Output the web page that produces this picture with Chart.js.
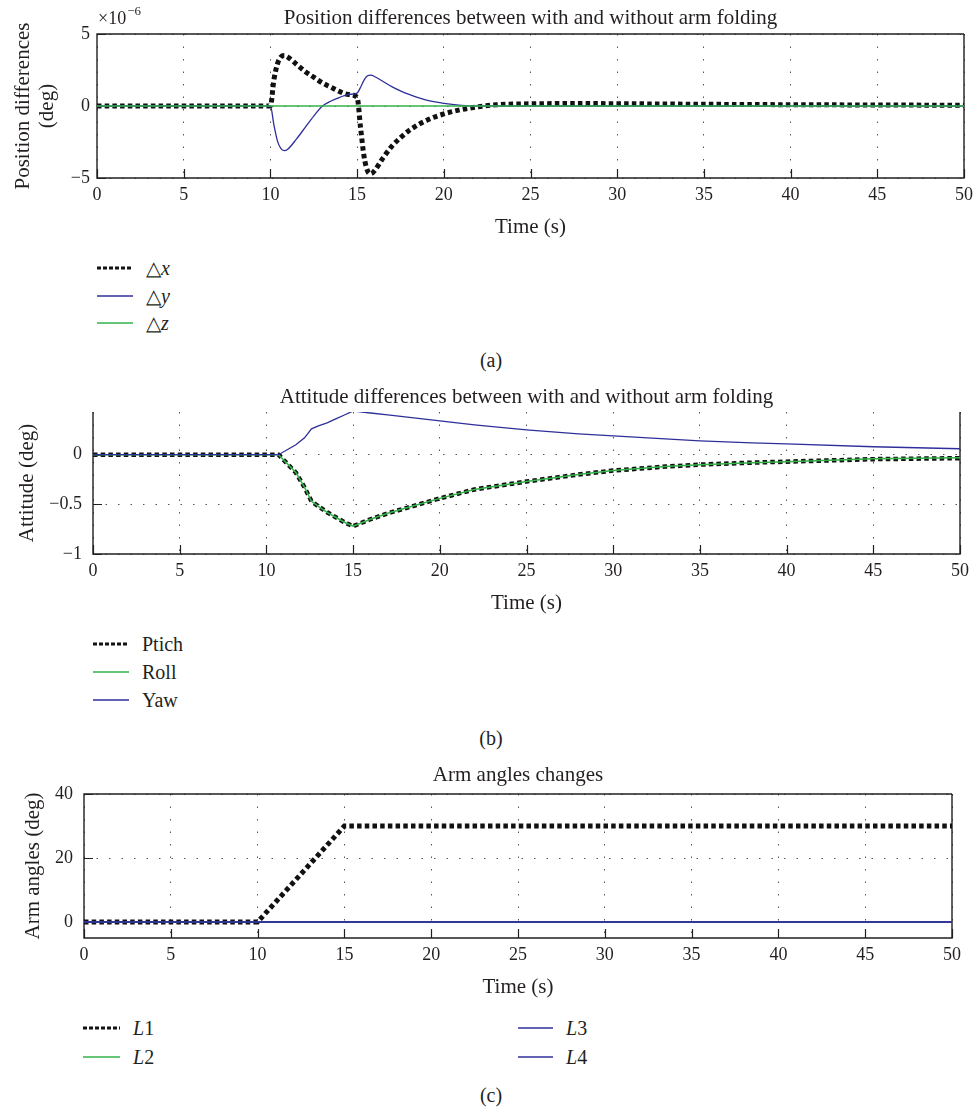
<!DOCTYPE html>
<html>
<head>
<meta charset="utf-8">
<script src="https://cdn.jsdelivr.net/npm/chart.js@4/dist/chart.umd.min.js"></script>
<style>
  html, body { margin:0; padding:0; background:#fff; }
  body { position:relative; width:979px; height:1111px; overflow:hidden; font-family:'Liberation Serif','Times New Roman',serif; color:#231f20; }
  canvas { position:absolute; left:0; }
  .lg { position:absolute; font-size:20px; line-height:24px; white-space:nowrap; }
  .sub { position:absolute; font-size:20px; line-height:24px; width:60px; text-align:center; }
  svg { position:absolute; overflow:visible; }
</style>
</head>
<body>
<canvas id="ca" width="979" height="248" style="top:0px"></canvas>
<canvas id="cb" width="979" height="244" style="top:380px"></canvas>
<canvas id="cc" width="979" height="248" style="top:760px"></canvas>
<script>
// ---------------- data ----------------
const xTicks = [0, 5, 10, 15, 20, 25, 30, 35, 40, 45, 50];

// (a) position differences, units of 1e-6 deg
const timeA = [0, 5, 10, 10.2, 10.4, 10.6, 10.8, 11, 11.5, 12, 12.5, 13, 13.5, 14, 14.5, 15, 15.2, 15.4, 15.6, 15.8, 16, 16.5, 17, 17.5, 18, 19, 20, 21, 22, 23, 25, 28, 30, 35, 40, 45, 50];
const deltaX = [0, 0, 0, 1.8, 2.9, 3.4, 3.5, 3.4, 2.9, 2.4, 2.0, 1.6, 1.3, 1.0, 0.8, 0.6, -1.5, -3.5, -4.5, -4.7, -4.5, -3.6, -2.8, -2.2, -1.7, -1.0, -0.55, -0.25, -0.05, 0.08, 0.15, 0.17, 0.16, 0.12, 0.09, 0.07, 0.05];
const deltaY = [0, 0, 0, -1.3, -2.4, -2.95, -3.1, -3.0, -2.3, -1.5, -0.7, 0, 0.35, 0.6, 0.8, 0.9, 1.3, 1.8, 2.1, 2.15, 2.05, 1.7, 1.35, 1.05, 0.8, 0.4, 0.18, 0.05, 0, 0, 0, 0, 0, 0, 0, 0, 0];
const deltaZ = [0, 0, 0, 0, 0, 0, 0, 0, 0, 0, 0, 0, 0, 0, 0, 0, 0, 0, 0, 0, 0, 0, 0, 0, 0, 0, 0, 0, 0, 0, 0, 0, 0, 0, 0, 0, 0];
const yTicksA = [-5, 0, 5];

// (b) attitude differences, deg
const timeB = [0, 5, 10, 10.7, 11.2, 11.7, 12.2, 12.6, 13, 13.5, 14, 14.5, 15, 16, 17, 18, 20, 22, 25, 28, 30, 33, 35, 38, 40, 45, 50];
const pitchB = [0, 0, 0, 0, -0.09, -0.18, -0.33, -0.47, -0.52, -0.58, -0.63, -0.68, -0.72, -0.65, -0.59, -0.54, -0.44, -0.35, -0.27, -0.20, -0.16, -0.12, -0.10, -0.08, -0.07, -0.045, -0.035];
const rollB = [0, 0, 0, 0, -0.09, -0.18, -0.33, -0.47, -0.52, -0.58, -0.63, -0.68, -0.72, -0.65, -0.59, -0.54, -0.44, -0.35, -0.27, -0.20, -0.16, -0.12, -0.10, -0.08, -0.07, -0.04, -0.03];
const yawB = [0, 0, 0, 0, 0.05, 0.10, 0.17, 0.26, 0.29, 0.32, 0.36, 0.40, 0.44, 0.42, 0.40, 0.38, 0.34, 0.30, 0.25, 0.21, 0.19, 0.16, 0.14, 0.12, 0.11, 0.08, 0.06];
const yTicksB = [-1, -0.5, 0];

// (c) arm angles, deg
const timeC = [0, 5, 10, 15, 20, 25, 30, 35, 40, 45, 50];
const armL1 = [0, 0, 0, 30, 30, 30, 30, 30, 30, 30, 30];
const armL2 = [0, 0, 0, 0, 0, 0, 0, 0, 0, 0, 0];
const armL3 = [0, 0, 0, 0, 0, 0, 0, 0, 0, 0, 0];
const armL4 = [0, 0, 0, 0, 0, 0, 0, 0, 0, 0, 0];
const yTicksC = [0, 20, 40];

// ---------------- styling ----------------
const FONT = "'Liberation Serif','Times New Roman',serif";
const INK = '#231f20';
const BLUE = '#2f2f9a';
const GREEN = '#33b34a';
const GRID = '#555';

const pts = (t, v) => t.map((x, i) => ({ x: x, y: v[i] }));
const fmt = v => (v < 0 ? '\u2212' + String(-v) : String(v));

const framePlugin = {
  id: 'frame',
  beforeDatasetsDraw(chart, args, opts) {
    const { ctx, chartArea: { left, right, top, bottom }, scales: { x, y } } = chart;
    ctx.save();
    ctx.strokeStyle = INK;
    ctx.lineWidth = 1.4;
    ctx.beginPath();
    if (opts.top) { ctx.moveTo(right, top); ctx.lineTo(left, top); } else { ctx.moveTo(left, top); }
    ctx.lineTo(left, bottom); ctx.lineTo(right, bottom); ctx.lineTo(right, top);
    ctx.stroke();
    ctx.beginPath();
    x.ticks.forEach(t => { const p = Math.round(x.getPixelForValue(t.value)) + 0.5; ctx.moveTo(p, bottom); ctx.lineTo(p, bottom - 9); });
    y.ticks.forEach(t => { const p = Math.round(y.getPixelForValue(t.value)) + 0.5; ctx.moveTo(left, p); ctx.lineTo(left + 9, p); });
    ctx.lineWidth = 1.2;
    ctx.stroke();
    ctx.restore();
  }
};

const expPlugin = {
  id: 'expo',
  afterDraw(chart, args, opts) {
    if (!opts.show) return;
    const { ctx, chartArea: { left } } = chart;
    ctx.save();
    ctx.fillStyle = INK;
    ctx.textBaseline = 'middle';
    ctx.textAlign = 'left';
    ctx.font = '18px ' + FONT;
    ctx.fillText('\u00d710', left + 1, 19);
    const w = ctx.measureText('\u00d710').width;
    ctx.font = '13px ' + FONT;
    ctx.fillText('\u22126', left + 2 + w, 12);
    ctx.restore();
  }
};

function makeChart(id, cfg) {
  const datasets = cfg.series.map(s => ({
    label: s.label,
    data: pts(s.t, s.v),
    borderColor: s.color,
    borderWidth: s.width,
    borderDash: s.dash || [],
    borderCapStyle: 'butt',
    pointRadius: 0,
    fill: false,
    order: s.order,
    cubicInterpolationMode: s.smooth ? 'monotone' : 'default',
    tension: 0
  }));
  return new Chart(document.getElementById(id), {
    type: 'line',
    data: { datasets },
    plugins: [framePlugin, expPlugin],
    options: {
      responsive: false,
      animation: false,
      events: [],
      layout: { padding: { left: 0, right: cfg.padRight, top: 0, bottom: 0 } },
      plugins: {
        legend: { display: false },
        tooltip: { enabled: false },
        title: {
          display: true, text: cfg.title, fullSize: false, color: INK,
          font: { family: FONT, size: 21, weight: 'normal', lineHeight: 1.2 },
          padding: { top: cfg.titlePad[0], bottom: cfg.titlePad[1] }
        },
        frame: { top: cfg.boxTop },
        expo: { show: !!cfg.expo }
      },
      scales: {
        x: {
          type: 'linear', min: 0, max: 50,
          afterBuildTicks: s => { s.ticks = xTicks.map(v => ({ value: v })); },
          afterFit: s => { s.height = 70; },
          ticks: { color: INK, padding: 6, font: { family: FONT, size: 18 }, maxRotation: 0, callback: v => fmt(v) },
          grid: { color: GRID, lineWidth: 1, drawTicks: false },
          border: { display: false, dash: [1.5, 11] },
          title: { display: true, text: 'Time (s)', color: INK, font: { family: FONT, size: 21, lineHeight: 1.143 }, padding: { top: 0, bottom: 9 } }
        },
        y: {
          type: 'linear', min: cfg.yMin, max: cfg.yMax,
          afterBuildTicks: s => { s.ticks = cfg.yTicks.map(v => ({ value: v })); },
          afterFit: s => { s.width = cfg.left; },
          ticks: { color: INK, padding: cfg.yPad, font: { family: FONT, size: 18 }, callback: v => fmt(v) },
          grid: { color: GRID, lineWidth: 1, drawTicks: false },
          border: { display: false, dash: [1.5, 11] },
          title: { display: true, text: cfg.yTitle, color: INK, font: { family: FONT, size: 21, lineHeight: 1.143 }, padding: { top: cfg.yTitlePad, bottom: 0 } }
        }
      }
    }
  });
}

makeChart('ca', {
  title: 'Position differences between with and without arm folding',
  titlePad: [5.4, 3.4], padRight: 15, left: 97, yPad: 7, yTitlePad: 11,
  yTitle: ['Position differences', '(deg)'], yMin: -5, yMax: 5, yTicks: yTicksA, boxTop: true, expo: true,
  series: [
    { label: '\u25b3x', t: timeA, v: deltaX, color: '#111', width: 5, dash: [4.5, 3.2], order: 3, smooth: true },
    { label: '\u25b3y', t: timeA, v: deltaY, color: BLUE, width: 1.3, order: 2, smooth: true },
    { label: '\u25b3z', t: timeA, v: deltaZ, color: GREEN, width: 1.5, order: 1, smooth: true }
  ]
});

makeChart('cb', {
  title: 'Attitude differences between with and without arm folding',
  titlePad: [4.4, 2.4], padRight: 19, left: 93, yPad: 11, yTitlePad: 15,
  yTitle: 'Attitude (deg)', yMin: -1, yMax: 0.43, yTicks: yTicksB, boxTop: false,
  series: [
    { label: 'Ptich', t: timeB, v: pitchB, color: '#111', width: 4.5, dash: [4.5, 3.2], order: 3, smooth: false },
    { label: 'Roll', t: timeB, v: rollB, color: GREEN, width: 1.5, order: 2, smooth: false },
    { label: 'Yaw', t: timeB, v: yawB, color: BLUE, width: 1.3, order: 1, smooth: false }
  ]
});

makeChart('cc', {
  title: 'Arm angles changes',
  titlePad: [2.4, 6.4], padRight: 27, left: 84, yPad: 11, yTitlePad: 21,
  yTitle: 'Arm angles (deg)', yMin: -5, yMax: 40, yTicks: yTicksC, boxTop: true,
  series: [
    { label: 'L1', t: timeC, v: armL1, color: '#111', width: 5, dash: [4.5, 3.2], order: 4 },
    { label: 'L2', t: timeC, v: armL2, color: GREEN, width: 1.5, order: 3 },
    { label: 'L3', t: timeC, v: armL3, color: BLUE, width: 1.5, order: 2 },
    { label: 'L4', t: timeC, v: armL4, color: BLUE, width: 1.5, order: 1 }
  ]
});

// ---------------- legends & captions ----------------
function legendItem(x1, x2, tx, y, color, dashed, html) {
  const ns = 'http://www.w3.org/2000/svg';
  const svg = document.createElementNS(ns, 'svg');
  svg.setAttribute('width', x2 - x1); svg.setAttribute('height', 6);
  svg.style.left = x1 + 'px'; svg.style.top = (y - 3) + 'px';
  const ln = document.createElementNS(ns, 'line');
  ln.setAttribute('x1', 0); ln.setAttribute('x2', x2 - x1);
  ln.setAttribute('y1', 3); ln.setAttribute('y2', 3);
  ln.setAttribute('stroke', color);
  ln.setAttribute('stroke-width', dashed ? 3 : 1.5);
  if (dashed) ln.setAttribute('stroke-dasharray', '4 2');
  svg.appendChild(ln);
  document.body.appendChild(svg);
  const sp = document.createElement('span');
  sp.className = 'lg';
  sp.style.left = tx + 'px'; sp.style.top = (y - 12) + 'px';
  sp.innerHTML = html;
  document.body.appendChild(sp);
}
function caption(txt, y) {
  const d = document.createElement('div');
  d.className = 'sub'; d.style.left = '461px'; d.style.top = (y - 12) + 'px';
  d.textContent = txt; document.body.appendChild(d);
}

legendItem(97, 133, 146, 268, '#111', true, '\u25b3<i>x</i>');
legendItem(97, 133, 146, 296, BLUE, false, '\u25b3<i>y</i>');
legendItem(97, 133, 146, 323, GREEN, false, '\u25b3<i>z</i>');
caption('(a)', 360);

legendItem(93, 129, 142, 644, '#111', true, 'Ptich');
legendItem(93, 129, 142, 672, GREEN, false, 'Roll');
legendItem(93, 129, 142, 700, BLUE, false, 'Yaw');
caption('(b)', 738);

legendItem(83, 120, 133, 1028, '#111', true, '<i>L</i>1');
legendItem(83, 120, 133, 1057, GREEN, false, '<i>L</i>2');
legendItem(518, 553, 566, 1028, BLUE, false, '<i>L</i>3');
legendItem(518, 553, 566, 1057, BLUE, false, '<i>L</i>4');
caption('(c)', 1095);
</script>
</body>
</html>
